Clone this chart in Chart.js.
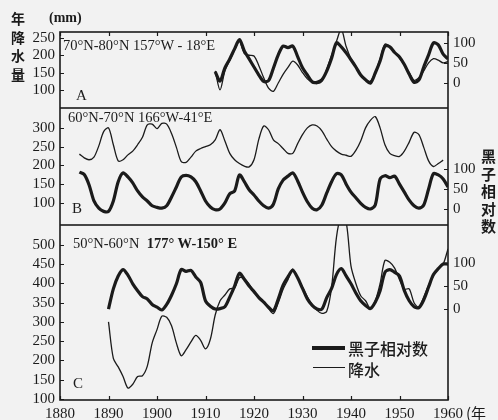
<!DOCTYPE html>
<html>
<head>
<meta charset="utf-8">
<script src="https://cdn.jsdelivr.net/npm/chart.js@4.4.0/dist/chart.umd.min.js"></script>
<style>
  html, body { margin: 0; padding: 0; }
  body { width: 498px; height: 420px; position: relative; background: #f2f2f2; overflow: hidden; }
  canvas { position: absolute; left: 0; }
  .t { position: absolute; color: #1b1b1b; white-space: nowrap; line-height: 1; }
  .serif { font-family: "Liberation Serif", "DejaVu Serif", serif; }
  .cjk { font-family: "Noto Sans CJK SC", sans-serif; font-weight: 700; }
  .key { position: absolute; background: #1b1b1b; }
</style>
</head>
<body>
<canvas id="panelA" width="498" height="108" style="top:0"></canvas>
<canvas id="panelB" width="498" height="117" style="top:108px"></canvas>
<canvas id="panelC" width="498" height="195" style="top:225px"></canvas>

<!-- axis titles -->
<div class="t cjk" style="left:11px; top:9px; font-size:14px; line-height:18.5px;">年<br>降<br>水<br>量</div>
<div class="t serif" style="left:49px; top:11px; font-size:14px; font-weight:700;">(mm)</div>
<div class="t cjk" style="left:481px; top:147px; font-size:15px; line-height:17.5px;">黑<br>子<br>相<br>对<br>数</div>
<div class="t cjk" style="left:466px; top:405px; font-size:15px; font-weight:400;">(年</div>

<!-- panel labels -->
<div class="t serif" style="left:63px; top:38px; font-size:14.5px;">70°N-80°N 157°W - 18°E</div>
<div class="t serif" style="left:76px; top:88px; font-size:15px;">A</div>
<div class="t serif" style="left:68px; top:110px; font-size:14.5px;">60°N-70°N 166°W-41°E</div>
<div class="t serif" style="left:72px; top:201px; font-size:15px;">B</div>
<div class="t serif" style="left:73px; top:236px; font-size:14.5px;">50°N-60°N&nbsp;&nbsp;<b>177° W-150° E</b></div>
<div class="t serif" style="left:73px; top:376px; font-size:15px;">C</div>

<!-- legend -->
<div class="key" style="left:312px; top:346px; width:33px; height:3.5px;"></div>
<div class="t cjk" style="left:348px; top:340px; font-size:16px; font-weight:500;">黑子相对数</div>
<div class="key" style="left:313px; top:367px; width:32px; height:1.3px;"></div>
<div class="t cjk" style="left:348px; top:361px; font-size:16px; font-weight:500;">降水</div>

<script>
// x categories
const years = [1880, 1881, 1882, 1883, 1884, 1885, 1886, 1887, 1888, 1889,
  1890, 1891, 1892, 1893, 1894, 1895, 1896, 1897, 1898, 1899,
  1900, 1901, 1902, 1903, 1904, 1905, 1906, 1907, 1908, 1909,
  1910, 1911, 1912, 1913, 1914, 1915, 1916, 1917, 1918, 1919,
  1920, 1921, 1922, 1923, 1924, 1925, 1926, 1927, 1928, 1929,
  1930, 1931, 1932, 1933, 1934, 1935, 1936, 1937, 1938, 1939,
  1940, 1941, 1942, 1943, 1944, 1945, 1946, 1947, 1948, 1949,
  1950, 1951, 1952, 1953, 1954, 1955, 1956, 1957, 1958, 1959, 1960];
const decades = [1880, 1890, 1900, 1910, 1920, 1930, 1940, 1950, 1960];

// A: 70°N-80°N, starts 1912
const sunA = [28, 5, 38, 60, 85, 108, 80, 60, 40, 20,
  4, 6, 37, 70, 92, 88, 92, 66, 38, 20,
  3, 2, 8, 30, 62, 100, 90, 75, 58, 40,
  20, 8, 0, 25, 55, 92, 90, 76, 65, 46,
  22, 2, 8, 40, 70, 100, 95, 72, 60];
const rainA = [155, 100, 155, 185, 215, 240, 205, 200, 198, 170,
  135, 105, 96, 120, 145, 165, 183, 172, 150, 132,
  122, 118, 125, 160, 200, 240, 275, 225, 190, 168,
  145, 130, 125, 150, 190, 232, 225, 208, 192, 172,
  150, 128, 135, 155, 178, 190, 186, 178, 182];

// B: 60°N-70°N, starts 1884
const sunB = [92, 86, 60, 20, 2, -6, -6, 20, 68, 90, 80, 65, 45, 30, 20, 8,
  4, 2, 8, 30, 55, 80, 84, 80, 68, 45,
  20, 5, -2, 0, 15, 38, 45, 85, 68, 48,
  35, 20, 8, 2, 12, 50, 72, 82, 90, 70,
  42, 18, 2, -2, 10, 40, 68, 88, 85, 62,
  42, 28, 14, 4, 0, 10, 75, 83, 78, 82,
  62, 42, 22, 8, 2, 10, 50, 88, 85, 75, 55];
const rainB = [230, 220, 215, 222, 252, 290, 300, 255, 212, 215, 228, 238, 255, 275, 308, 310,
  298, 312, 310, 285, 248, 210, 208, 222, 238, 245,
  250, 255, 268, 295, 265, 232, 215, 205, 198, 196,
  215, 270, 305, 295, 268, 258, 245, 232, 232, 258,
  282, 300, 308, 305, 292, 270, 250, 238, 230, 227,
  224, 240, 265, 300, 320, 330, 300, 255, 232, 226,
  224, 238, 262, 288, 282, 248, 212, 197, 205, 214];

// C: 50°N-60°N, starts 1890
const sunC = [0, 44, 72, 86, 74, 55, 40, 27, 22, 10,
  4, -2, 10, 30, 55, 86, 82, 84, 70, 58,
  18, 6, 0, 1, 5, 26, 50, 78, 65, 50,
  38, 25, 15, 4, -4, 22, 52, 70, 84, 68,
  45, 22, 8, 0, 0, 25, 45, 75, 88, 72,
  55, 35, 18, 8, 1, 15, 40, 80, 86, 80,
  72, 40, 18, 5, 3, 20, 48, 75, 88, 98, 98];
const rainC = [300, 205, 183, 158, 128, 138, 158, 160, 185, 245,
  280, 315, 312, 290, 245, 212, 228, 248, 265, 252,
  230, 255, 318, 355, 370, 386, 388, 415, 412, 398,
  378, 362, 352, 335, 322, 350, 385, 410, 438, 415,
  390, 365, 345, 330, 322, 328, 390, 520, 575, 560,
  445, 400, 368, 355, 335, 355, 400, 460, 455, 440,
  410, 385, 386, 350, 338, 365, 395, 420, 438, 450, 490];

// tick labels
const rainTicksA = [100, 150, 200, 250];
const rainTicksB = [100, 150, 200, 250, 300];
const rainTicksC = [100, 150, 200, 250, 300, 350, 400, 450, 500];
const sunTicks = [0, 50, 100];

const ink = '#1b1b1b';
const serif = '"Liberation Serif", "DejaVu Serif", serif';

function series(firstYear, values) {
  const start = years.indexOf(firstYear);
  return values.map((v, i) => ({ x: years[start + i], y: v }));
}

// box around each panel plus inward tick marks
const framePlugin = {
  id: 'frame',
  afterDatasetsDraw(chart, args, opts) {
    const { ctx, chartArea: a, scales } = chart;
    ctx.save();
    ctx.strokeStyle = ink;
    ctx.lineWidth = 1.6;
    ctx.strokeRect(a.left, a.top, a.right - a.left, a.bottom - a.top);
    ctx.lineWidth = 1.2;
    ctx.beginPath();
    scales.yL.ticks.forEach(t => {
      const y = Math.round(scales.yL.getPixelForValue(t.value)) + 0.5;
      ctx.moveTo(a.left, y); ctx.lineTo(a.left + 4, y);
    });
    scales.yR.ticks.forEach(t => {
      const y = Math.round(scales.yR.getPixelForValue(t.value)) + 0.5;
      ctx.moveTo(a.right, y); ctx.lineTo(a.right - 4, y);
    });
    decades.forEach(d => {
      const px = Math.round(scales.x.getPixelForValue(d)) + 0.5;
      if (opts.top) { ctx.moveTo(px, a.top); ctx.lineTo(px, a.top + 4); }
      if (opts.bottom) { ctx.moveTo(px, a.bottom); ctx.lineTo(px, a.bottom - 4); }
    });
    ctx.stroke();
    ctx.restore();
  }
};

function makePanel(id, sun, rain, left, right, opts) {
  const tickFont = { family: serif, size: 15 };
  const noGrid = { display: false, drawTicks: false, tickLength: 0 };
  return new Chart(document.getElementById(id), {
    type: 'line',
    data: {
      datasets: [
        { label: '黑子相对数', data: sun, yAxisID: 'yR', borderColor: ink, borderWidth: 3.2, tension: 0.3, pointRadius: 0 },
        { label: '降水', data: rain, yAxisID: 'yL', borderColor: ink, borderWidth: 1.3, tension: 0.3, pointRadius: 0 }
      ]
    },
    options: {
      responsive: false,
      animation: false,
      layout: { padding: { top: opts.padTop, bottom: 0, left: 0, right: 0 } },
      plugins: { legend: { display: false }, tooltip: { enabled: false }, frame: { top: opts.top, bottom: opts.bottom } },
      scales: {
        x: {
          type: 'linear', min: 1880, max: 1960,
          display: opts.showX,
          grid: noGrid,
          border: { display: false },
          afterBuildTicks: s => { s.ticks = decades.map(v => ({ value: v })); },
          ticks: { font: tickFont, color: ink, padding: 5, maxRotation: 0, autoSkip: false, callback: v => String(v) },
          afterFit: s => { s.height = opts.showX ? 20 : 0; s.paddingLeft = 0; s.paddingRight = 0; }
        },
        yL: {
          position: 'left', min: left.min, max: left.max,
          grid: noGrid,
          border: { display: false },
          afterBuildTicks: s => { s.ticks = left.ticks.map(v => ({ value: v })); },
          ticks: { font: tickFont, color: ink, padding: 5, autoSkip: false, callback: v => String(v) },
          afterFit: s => { s.width = 60; s.paddingTop = 0; s.paddingBottom = 0; }
        },
        yR: {
          position: 'right', min: right.min, max: right.max,
          grid: noGrid,
          border: { display: false },
          afterBuildTicks: s => { s.ticks = sunTicks.map(v => ({ value: v })); },
          ticks: { font: tickFont, color: ink, padding: 5, autoSkip: false, callback: v => String(v) },
          afterFit: s => { s.width = 50; s.paddingTop = 0; s.paddingBottom = 0; }
        }
      }
    },
    plugins: [framePlugin]
  });
}

makePanel('panelA', series(1912, sunA), series(1912, rainA),
  { min: 48, max: 267, ticks: rainTicksA }, { min: -62, max: 127 },
  { padTop: 32, showX: false, top: true, bottom: false });
makePanel('panelB', series(1884, sunB), series(1884, rainB),
  { min: 41, max: 353, ticks: rainTicksB }, { min: -40, max: 252 },
  { padTop: 0, showX: false, top: false, bottom: false });
makePanel('panelC', series(1890, sunC), series(1890, rainC),
  { min: 97, max: 552, ticks: rainTicksC }, { min: -198, max: 183 },
  { padTop: 0, showX: true, top: false, bottom: true });
</script>
</body>
</html>
